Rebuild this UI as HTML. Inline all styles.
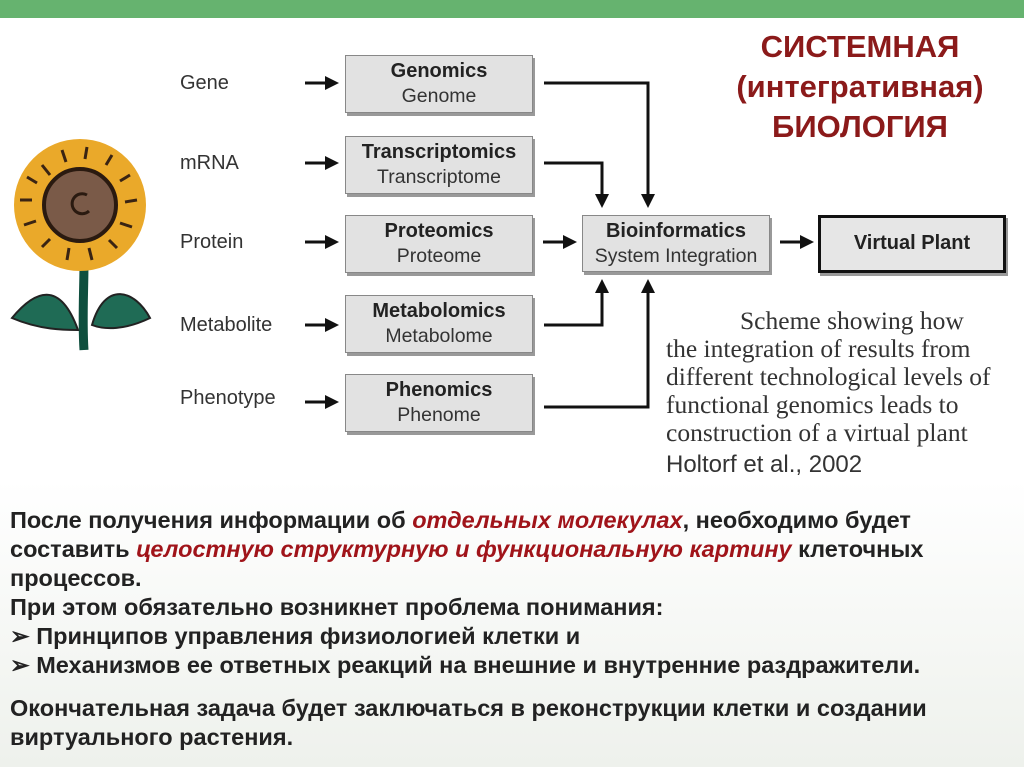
<!DOCTYPE html>
<html><head><meta charset="utf-8"><style>
body{margin:0;width:1024px;height:767px;overflow:hidden;background:linear-gradient(#fff 0,#fff 480px,#eef1ec 767px);font-family:"Liberation Sans",sans-serif;position:relative}
.bar{position:absolute;left:0;top:0;width:1024px;height:18px;background:#66b36f}
.lbl{position:absolute;font-size:20px;color:#333;left:180px}
.box{position:absolute;background:#e2e2e2;border:1px solid #888;box-shadow:2px 3px 0 #999;text-align:center;font-size:19.5px;color:#333;line-height:25px;box-sizing:border-box;padding-top:3px;white-space:nowrap}
.box b{color:#222;font-size:20px}
.title{position:absolute;left:700px;width:320px;text-align:center;color:#8b1a1a;font-weight:bold;font-size:31px;line-height:40px;top:27px}
.cap{position:absolute;left:666px;top:307px;font-family:"Liberation Serif",serif;font-size:25.5px;line-height:28px;color:#333;white-space:nowrap}
.bot{position:absolute;left:10px;top:506px;font-weight:bold;font-size:23.5px;line-height:29px;color:#222;white-space:nowrap}
.bot i{color:#a0141a}
</style></head><body>
<div class="bar"></div>
<svg style="position:absolute;left:0;top:0" width="1024" height="767">
<defs>
<marker id="b" markerWidth="14" markerHeight="14" refX="11" refY="7" orient="auto" markerUnits="userSpaceOnUse"><path d="M0,0 L14,7 L0,14 Z" fill="#111"/></marker></defs>
<g stroke="#111" stroke-width="3" fill="none">
<line x1="305" y1="83" x2="336" y2="83" marker-end="url(#b)"/>
<line x1="305" y1="163" x2="336" y2="163" marker-end="url(#b)"/>
<line x1="305" y1="242" x2="336" y2="242" marker-end="url(#b)"/>
<line x1="305" y1="325" x2="336" y2="325" marker-end="url(#b)"/>
<line x1="305" y1="402" x2="336" y2="402" marker-end="url(#b)"/>
<line x1="543" y1="242" x2="574" y2="242" marker-end="url(#b)"/>
<line x1="780" y1="242" x2="811" y2="242" marker-end="url(#b)"/>
<polyline points="544,83 648,83 648,205" marker-end="url(#b)"/>
<polyline points="544,163 602,163 602,205" marker-end="url(#b)"/>
<polyline points="544,325 602,325 602,282" marker-end="url(#b)"/>
<polyline points="544,407 648,407 648,282" marker-end="url(#b)"/>
</g>
<g>
<path d="M84,350 C82,320 84,290 84,262" stroke="#0f4f3e" stroke-width="9" fill="none"/>
<path d="M78,330 C60,280 35,290 12,318 C40,330 65,330 78,330 Z" fill="#1f6b55" stroke="#222" stroke-width="2"/>
<path d="M92,325 C105,280 135,290 150,318 C125,330 105,330 92,325 Z" fill="#1f6b55" stroke="#222" stroke-width="2"/>
<circle cx="80" cy="205" r="66" fill="#eaa92a"/>
<g stroke="#3a2413" stroke-width="3" fill="none">
<path d="M40,160 l8,10 M60,145 l4,12 M85,142 l-2,12 M110,150 l-6,10 M128,170 l-10,6 M135,195 l-12,2 M130,222 l-12,-4 M115,243 l-8,-8 M90,255 l-3,-12 M65,255 l2,-12 M40,242 l8,-8 M22,220 l12,-4 M18,195 l12,0 M25,172 l10,6" transform="translate(2,5)"/>
</g>
<circle cx="80" cy="205" r="36" fill="#7a5a48" stroke="#2a1a10" stroke-width="4"/>
<path d="M87,195 a10,10 0 1 0 2,16" stroke="#2a1a10" stroke-width="3" fill="none"/>
</g>
</svg>
<div class="lbl" style="top:72px">Gene</div>
<div class="lbl" style="top:152px">mRNA</div>
<div class="lbl" style="top:231px">Protein</div>
<div class="lbl" style="top:314px">Metabolite</div>
<div class="lbl" style="top:387px">Phenotype</div>
<div class="box" style="left:345px;top:55px;width:188px;height:58px"><b>Genomics</b><br>Genome</div>
<div class="box" style="left:345px;top:136px;width:188px;height:58px"><b>Transcriptomics</b><br>Transcriptome</div>
<div class="box" style="left:345px;top:215px;width:188px;height:58px"><b>Proteomics</b><br>Proteome</div>
<div class="box" style="left:345px;top:295px;width:188px;height:58px"><b>Metabolomics</b><br>Metabolome</div>
<div class="box" style="left:345px;top:374px;width:188px;height:58px"><b>Phenomics</b><br>Phenome</div>
<div class="box" style="left:582px;top:215px;width:188px;height:57px"><b>Bioinformatics</b><br>System Integration</div>
<div class="box" style="left:818px;top:215px;width:188px;height:58px;background:#e6e6e6;border:3px solid #111;line-height:50px;padding-top:0"><b style="font-size:20px">Virtual Plant</b></div>
<div class="title">СИСТЕМНАЯ<br>(интегративная)<br>БИОЛОГИЯ</div>
<div class="cap"><span style="padding-left:74px">Scheme showing how</span><br>the integration of results from<br>different technological levels of<br>functional genomics leads to<br>construction of a virtual plant<br><span style="font-family:'Liberation Sans',sans-serif;font-size:24px;line-height:36px">Holtorf et al., 2002</span></div>
<div class="bot">После получения информации об <i>отдельных молекулах</i>, необходимо будет<br>составить <i>целостную структурную и функциональную картину</i> клеточных<br>процессов.<br>При этом обязательно возникнет проблема понимания:<br>➢ Принципов управления физиологией клетки и<br>➢ Механизмов ее ответных реакций на внешние и внутренние раздражители.<br><div style="height:14px"></div>Окончательная задача будет заключаться в реконструкции клетки и создании<br>виртуального растения.</div>
</body></html>
